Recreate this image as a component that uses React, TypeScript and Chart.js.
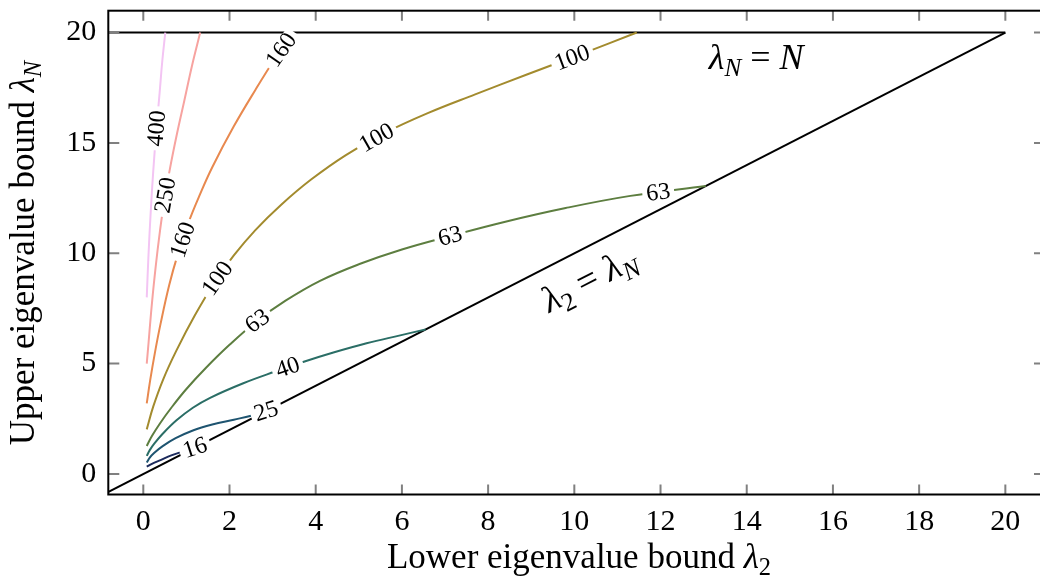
import React, { useEffect, useRef } from "react";
import { Chart, registerables } from "chart.js";

Chart.register(...registerables);

// ---------- data ----------
const xTickValues = [0, 2, 4, 6, 8, 10, 12, 14, 16, 18, 20];
const yTickValues = [0, 5, 10, 15, 20];

const levels = [16, 25, 40, 63, 100, 160, 250, 400];
const levelColors = ["#1b2a5c", "#1e5470", "#2b6e66", "#5d7e40", "#a38b2e", "#e8894f", "#f7a3a0", "#f3c4f3"];

const c16X = [0.08, 0.2, 0.4, 0.65, 0.9, 1.2];
const c16Y = [0.33, 0.46, 0.63, 0.84, 1.01, 1.2];

const c25X = [0.08, 0.15, 0.25, 0.45, 0.75, 1.15, 1.6, 2.1, 2.5, 2.85];
const c25Y = [0.52, 0.74, 0.95, 1.26, 1.62, 1.97, 2.24, 2.46, 2.64, 2.85];

const c40X = [0.08, 0.15, 0.25, 0.45, 0.77, 1.15, 1.55, 2.32, 3.06, 3.67, 4.41, 5.18, 5.96, 6.55];
const c40Y = [0.82, 1.08, 1.36, 1.82, 2.43, 3.0, 3.45, 4.11, 4.64, 5.05, 5.5, 5.92, 6.28, 6.55];

const c63X = [0.08, 0.2, 0.39, 0.65, 1.0, 1.45, 2.0, 2.63, 3.3, 4.1, 5.0, 6.0, 7.12, 8.4, 9.8, 11.3, 13.05];
const c63Y = [1.27, 1.72, 2.3, 3.0, 3.85, 4.8, 5.85, 6.92, 7.85, 8.75, 9.5, 10.17, 10.78, 11.43, 12.05, 12.6, 13.05];

const c100X = [0.08, 0.23, 0.46, 0.77, 1.2, 1.66, 2.1, 2.6, 3.2, 3.9, 4.7, 5.6, 6.6, 7.7, 8.9, 10.1, 11.45];
const c100Y = [2.02, 3.05, 4.28, 5.6, 7.2, 8.7, 9.9, 11.05, 12.2, 13.35, 14.45, 15.45, 16.35, 17.2, 18.1, 18.98, 20.0];

const c160X = [0.08, 0.16, 0.27, 0.4, 0.6, 0.8, 1.05, 1.3, 1.6, 2.1, 2.6, 3.05, 3.48];
const c160Y = [3.2, 4.25, 5.5, 6.8, 8.55, 9.95, 11.4, 12.6, 13.9, 15.75, 17.4, 18.8, 20.0];

const c250X = [0.08, 0.12, 0.18, 0.26, 0.36, 0.48, 0.62, 0.78, 0.95, 1.13, 1.32];
const c250Y = [5.0, 5.9, 7.3, 8.9, 10.6, 12.3, 13.85, 15.4, 16.9, 18.5, 20.0];

const c400X = [0.08, 0.12, 0.17, 0.23, 0.3, 0.38, 0.44, 0.51];
const c400Y = [8.0, 9.9, 11.8, 13.7, 15.5, 17.3, 18.7, 20.0];

const diagX = [-0.9, 20];
const diagY = [-0.9, 20];
const topX = [-0.9, 20];
const topY = [20, 20];

const labelLevels = [16, 25, 40, 63, 63, 63, 100, 100, 100, 160, 160, 250, 400];
const labelX = [1.2, 2.89, 3.33, 2.63, 7.12, 11.95, 1.66, 5.42, 9.9, 0.93, 3.21, 0.5, 0.31];
const labelY = [1.18, 2.82, 4.94, 6.98, 10.75, 12.72, 8.94, 15.21, 19.13, 10.6, 19.2, 12.64, 15.66];

const xTitle = "Lower eigenvalue bound ";
const yTitle = "Upper eigenvalue bound ";

// ---------- helpers ----------
const SERIF = "'Liberation Serif', 'Times New Roman', serif";
const fnt = (size: number, italic?: boolean) => `${italic ? "italic " : ""}${size}px ${SERIF}`;

type Part = { t: string; it?: boolean; sub?: boolean };

function partsWidth(ctx: CanvasRenderingContext2D, parts: Part[], size: number) {
  let w = 0;
  for (const p of parts) {
    ctx.font = fnt(p.sub ? size * 0.7 : size, p.it);
    w += ctx.measureText(p.t).width;
  }
  return w;
}

function drawParts(ctx: CanvasRenderingContext2D, parts: Part[], size: number, cx: number, baseline: number) {
  const w = partsWidth(ctx, parts, size);
  let x = cx - w / 2;
  ctx.textAlign = "left";
  ctx.textBaseline = "alphabetic";
  for (const p of parts) {
    const s = p.sub ? size * 0.7 : size;
    ctx.font = fnt(s, p.it);
    ctx.fillText(p.t, x, p.sub ? baseline + size * 0.2 : baseline);
    x += ctx.measureText(p.t).width;
  }
}

function pairs(xs: number[], ys: number[]) {
  return xs.map((x, i) => ({ x, y: ys[i] }));
}

const contourData = [
  pairs(c16X, c16Y),
  pairs(c25X, c25Y),
  pairs(c40X, c40Y),
  pairs(c63X, c63Y),
  pairs(c100X, c100Y),
  pairs(c160X, c160Y),
  pairs(c250X, c250Y),
  pairs(c400X, c400Y),
];

const CHART_LEFT = 108.3;
const CHART_RIGHT = 1045;
const CHART_TOP = 10.7;
const CHART_BOTTOM = 494.5;
const CANVAS_W = 1060;
const CANVAS_H = 587;

const decorPlugin = {
  id: "decor",
  afterDatasetsDraw(chart: any) {
    const ctx: CanvasRenderingContext2D = chart.ctx;
    const xs = chart.scales.x;
    const ys = chart.scales.y;
    for (let k = 0; k < labelLevels.length; k++) {
      const li = levels.indexOf(labelLevels[k]);
      const meta = chart.getDatasetMeta(li);
      const pts = meta.data.map((e: any) => ({ x: e.x, y: e.y }));
      const px = xs.getPixelForValue(labelX[k]);
      const py = ys.getPixelForValue(labelY[k]);
      let best = { d: Infinity, x: px, y: py, ang: 0 };
      for (let i = 0; i < pts.length - 1; i++) {
        const a = pts[i], b = pts[i + 1];
        const dx = b.x - a.x, dy = b.y - a.y;
        const L2 = dx * dx + dy * dy || 1;
        let t = ((px - a.x) * dx + (py - a.y) * dy) / L2;
        t = Math.max(0, Math.min(1, t));
        const qx = a.x + t * dx, qy = a.y + t * dy;
        const d = (qx - px) ** 2 + (qy - py) ** 2;
        if (d < best.d) best = { d, x: qx, y: qy, ang: Math.atan2(dy, dx) };
      }
      const text = String(labelLevels[k]);
      ctx.save();
      ctx.translate(best.x, best.y);
      ctx.rotate(best.ang);
      ctx.font = fnt(24);
      const w = ctx.measureText(text).width;
      ctx.fillStyle = "#ffffff";
      ctx.fillRect(-w / 2 - 4, -8, w + 8, 16);
      ctx.fillStyle = "#000000";
      ctx.textAlign = "center";
      ctx.textBaseline = "middle";
      ctx.fillText(text, 0, 1);
      ctx.restore();
    }
  },
  afterDraw(chart: any) {
    const ctx: CanvasRenderingContext2D = chart.ctx;
    const { left, right, top, bottom } = chart.chartArea;
    const xs = chart.scales.x;
    const ys = chart.scales.y;
    ctx.save();
    // ticks (inward, gray)
    ctx.strokeStyle = "#808080";
    ctx.lineWidth = 2;
    ctx.beginPath();
    for (const v of xTickValues) {
      const p = xs.getPixelForValue(v);
      ctx.moveTo(p, bottom);
      ctx.lineTo(p, bottom - 10);
      ctx.moveTo(p, top);
      ctx.lineTo(p, top + 10);
    }
    for (const v of yTickValues) {
      const p = ys.getPixelForValue(v);
      ctx.moveTo(left, p);
      ctx.lineTo(left + 11, p);
      ctx.moveTo(right, p);
      ctx.lineTo(right - 11, p);
    }
    ctx.stroke();
    // frame
    ctx.strokeStyle = "#000000";
    ctx.lineWidth = 2;
    ctx.strokeRect(left, top, right - left, bottom - top);

    ctx.fillStyle = "#000000";
    // x title
    drawParts(ctx, [{ t: xTitle }, { t: "λ", it: true }, { t: "2", sub: true }], 35, 579, 568);
    // y title
    ctx.save();
    ctx.translate(33.5, 253);
    ctx.rotate(-Math.PI / 2);
    drawParts(ctx, [{ t: yTitle }, { t: "λ", it: true }, { t: "N", it: true, sub: true }], 35, 0, 0);
    ctx.restore();

    // lambda_N = N annotation
    const ax = xs.getPixelForValue(14.22);
    const ay = ys.getPixelForValue(18.35);
    drawParts(ctx, [{ t: "λ", it: true }, { t: "N", it: true, sub: true }, { t: " = " }, { t: "N", it: true }], 36, ax, ay);

    // lambda_2 = lambda_N annotation along diagonal
    const ang = Math.atan2(ys.getPixelForValue(20) - ys.getPixelForValue(0), xs.getPixelForValue(20) - xs.getPixelForValue(0));
    const bx = xs.getPixelForValue(10.36);
    const by = ys.getPixelForValue(8.75);
    ctx.save();
    ctx.translate(bx, by);
    ctx.rotate(ang);
    drawParts(ctx, [{ t: "λ", it: true }, { t: "2", sub: true }, { t: " = " }, { t: "λ", it: true }, { t: "N", it: true, sub: true }], 37, 0, 10);
    ctx.restore();
    ctx.restore();
  },
};

export default function App() {
  const canvasRef = useRef<HTMLCanvasElement | null>(null);

  useEffect(() => {
    if (!canvasRef.current) return;
    const datasets: any[] = contourData.map((d, i) => ({
      label: String(levels[i]),
      data: d,
      showLine: true,
      borderColor: levelColors[i],
      backgroundColor: levelColors[i],
      borderWidth: 2,
      pointRadius: 0,
      tension: 0.4,
      fill: false,
    }));
    datasets.push({
      label: "diag",
      data: pairs(diagX, diagY),
      showLine: true,
      borderColor: "#000000",
      borderWidth: 2,
      pointRadius: 0,
      fill: false,
    });
    datasets.push({
      label: "top",
      data: pairs(topX, topY),
      showLine: true,
      borderColor: "#000000",
      borderWidth: 2,
      pointRadius: 0,
      fill: false,
    });

    const chart = new Chart(canvasRef.current, {
      type: "scatter",
      data: { datasets },
      options: {
        animation: false,
        responsive: false,
        events: [],
        layout: { padding: { top: CHART_TOP, right: CANVAS_W - CHART_RIGHT, left: 0, bottom: 0 } },
        plugins: { legend: { display: false }, tooltip: { enabled: false } },
        scales: {
          x: {
            type: "linear",
            min: -0.812,
            max: 20.92,
            afterBuildTicks: (s: any) => {
              s.ticks = xTickValues.map((v) => ({ value: v }));
            },
            afterFit: (s: any) => {
              s.height = CANVAS_H - CHART_BOTTOM;
              s.paddingLeft = 0;
              s.paddingRight = 0;
              s.paddingTop = 0;
              s.paddingBottom = 0;
            },
            ticks: { color: "#000000", font: { family: SERIF, size: 30 }, padding: 10, maxRotation: 0, autoSkip: false },
            grid: { display: false, drawTicks: false },
            border: { display: false },
          },
          y: {
            type: "linear",
            min: -0.93,
            max: 20.99,
            afterBuildTicks: (s: any) => {
              s.ticks = yTickValues.map((v) => ({ value: v }));
            },
            afterFit: (s: any) => {
              s.width = CHART_LEFT;
              s.paddingLeft = 0;
              s.paddingRight = 0;
              s.paddingTop = 0;
              s.paddingBottom = 0;
            },
            ticks: { color: "#000000", font: { family: SERIF, size: 30 }, padding: 12, autoSkip: false },
            grid: { display: false, drawTicks: false },
            border: { display: false },
          },
        },
      } as any,
      plugins: [decorPlugin],
    });
    return () => chart.destroy();
  }, []);

  return (
    <div style={{ position: "fixed", left: 0, top: 0, width: CANVAS_W, height: CANVAS_H, background: "#fff" }}>
      <canvas ref={canvasRef} width={CANVAS_W} height={CANVAS_H} style={{ width: CANVAS_W, height: CANVAS_H, display: "block" }} />
    </div>
  );
}
